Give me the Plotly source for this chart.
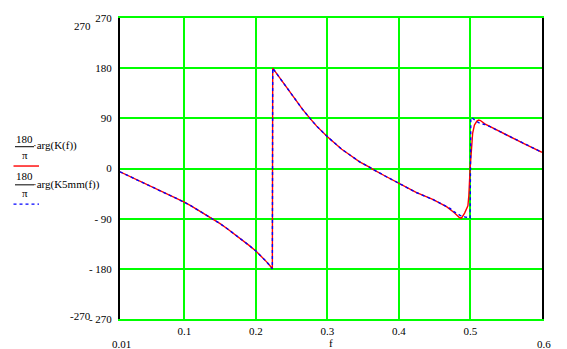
import plotly.graph_objects as go

# ---- data ----
f_K = [0.01, 0.03, 0.05, 0.07, 0.09, 0.1, 0.11, 0.12, 0.13, 0.14, 0.15, 0.16, 0.17, 0.18,
       0.19, 0.2, 0.205, 0.21, 0.215, 0.22, 0.223,
       0.2235, 0.235, 0.245, 0.255, 0.265, 0.2756, 0.285, 0.3, 0.31, 0.32, 0.33, 0.345, 0.36,
       0.363, 0.38, 0.4, 0.424, 0.448, 0.467, 0.477, 0.4845, 0.4874, 0.4918, 0.4964, 0.4977,
       0.4995, 0.5015, 0.503, 0.5055, 0.509, 0.5115, 0.514, 0.52, 0.5275, 0.551, 0.574, 0.6]
deg_K = [-6, -18, -30, -42.5, -54, -60.5, -67.5, -75, -82.5, -90.5, -99, -108, -117.5, -127.5,
         -137.5, -148, -154, -160.5, -167.5, -175, -180,
         180, 159, 141, 123.5, 106.5, 90, 76, 57, 45, 34.5, 25.5, 12, 1.5,
         -1, -13, -27, -43, -56, -69, -79, -88, -89, -80, -67, -49,
         0, 48, 63, 78, 85, 87, 86, 80, 75, 60, 45, 29]

f_K5 = [0.01, 0.03, 0.05, 0.07, 0.09, 0.1, 0.11, 0.12, 0.13, 0.14, 0.15, 0.16, 0.17, 0.18,
        0.19, 0.2, 0.205, 0.21, 0.215, 0.22, 0.223,
        0.2235, 0.235, 0.245, 0.255, 0.265, 0.2756, 0.285, 0.3, 0.31, 0.32, 0.33, 0.345, 0.36,
        0.363, 0.38, 0.4, 0.424, 0.448, 0.467, 0.472, 0.476, 0.4855, 0.4925, 0.4995,
        0.5005, 0.502, 0.505, 0.509, 0.513, 0.52, 0.5275, 0.551, 0.574, 0.6]
deg_K5 = [-6, -18, -30, -42.5, -54, -60.5, -67.5, -75, -82.5, -90.5, -99, -108, -117.5, -127.5,
          -137.5, -148, -154, -160.5, -167.5, -175, -180,
          180, 159, 141, 123.5, 106.5, 90, 76, 57, 45, 34.5, 25.5, 12, 1.5,
          -1, -13, -27, -43, -56, -69, -72, -77, -84, -87, -89,
          91, 91, 88, 84, 81, 79, 75, 60, 45, 29]

x_ticks = [0.1, 0.2, 0.3, 0.4, 0.5]
x_ticktext = ["0.1", "0.2", "0.3", "0.4", "0.5"]
y_ticks = [-270, -180, -90, 0, 90, 180, 270]
y_ticktext = ["- 270", "- 180", "- 90", "0", "90", "180", "270"]
x_min, x_max = 0.01, 0.6
y_min, y_max = -270, 270

# ---- layout geometry ----
W, H = 567, 349
L, R, T, B = 120, 25, 15, 30
PW, PH = W - L - R, H - T - B
FONT = "Liberation Serif"
GREEN = "#00FF00"


def px(x):
    return (x - L) / PW


def py(y):
    return (H - B - y) / PH


fig = go.Figure()
fig.add_trace(go.Scatter(x=f_K, y=deg_K, mode="lines",
                         line=dict(color="#FF0000", width=1.4), showlegend=False,
                         hoverinfo="skip"))
fig.add_trace(go.Scatter(x=f_K5, y=deg_K5, mode="lines",
                         line=dict(color="#0000FF", width=1.4, dash="3px,3px"),
                         showlegend=False, hoverinfo="skip"))

ann = []


def text(x, y, s, xanchor="center", size=11):
    ann.append(dict(x=px(x), y=py(y), xref="paper", yref="paper", text=s,
                    showarrow=False, xanchor=xanchor, yanchor="middle", borderpad=0,
                    font=dict(family=FONT, size=size, color="black")))


# extra Mathcad limit labels
text(82, 23, "270")
text(80, 316, "-270")
text(121, 344, "0.01")
text(544, 344, "0.6")
text(331, 343.5, "f")

# legend-like labels
text(24.5, 137, "180")
text(24.5, 153, "π")
text(32, 144, "·arg(K(f))", xanchor="left")
text(24.5, 175, "180")
text(24.5, 191.5, "π")
text(32, 183, "·arg(K5mm(f))", xanchor="left")

shapes = [
    dict(type="line", xref="paper", yref="paper", x0=px(15), x1=px(34), y0=py(145), y1=py(145),
         line=dict(color="black", width=1)),
    dict(type="line", xref="paper", yref="paper", x0=px(15), x1=px(34), y0=py(183.5), y1=py(183.5),
         line=dict(color="black", width=1)),
    dict(type="line", xref="paper", yref="paper", x0=px(13.5), x1=px(39), y0=py(164.5), y1=py(164.5),
         line=dict(color="#FF0000", width=1.4)),
    dict(type="line", xref="paper", yref="paper", x0=px(13.5), x1=px(39), y0=py(203), y1=py(203),
         line=dict(color="#0000FF", width=1.4, dash="3px,3px")),
]

fig.update_layout(
    width=W, height=H,
    margin=dict(l=L, r=R, t=T, b=B),
    paper_bgcolor="white", plot_bgcolor="white",
    font=dict(family=FONT, size=11, color="black"),
    annotations=ann, shapes=shapes,
    showlegend=False,
)
fig.update_xaxes(range=[x_min, x_max], tickmode="array", tickvals=x_ticks, ticktext=x_ticktext,
                 showgrid=True, gridcolor=GREEN, gridwidth=2, zeroline=False,
                 showline=True, linecolor=GREEN, linewidth=2, mirror=True,
                 ticks="", ticklabelstandoff=1,
                 tickfont=dict(family=FONT, size=11, color="black"))
fig.update_yaxes(range=[y_min, y_max], tickmode="array", tickvals=y_ticks, ticktext=y_ticktext,
                 showgrid=True, gridcolor=GREEN, gridwidth=2, zeroline=False,
                 showline=True, linecolor="black", linewidth=2, mirror=True,
                 ticks="", ticklabelstandoff=4,
                 tickfont=dict(family=FONT, size=11, color="black"))

fig.write_html("out.html")
